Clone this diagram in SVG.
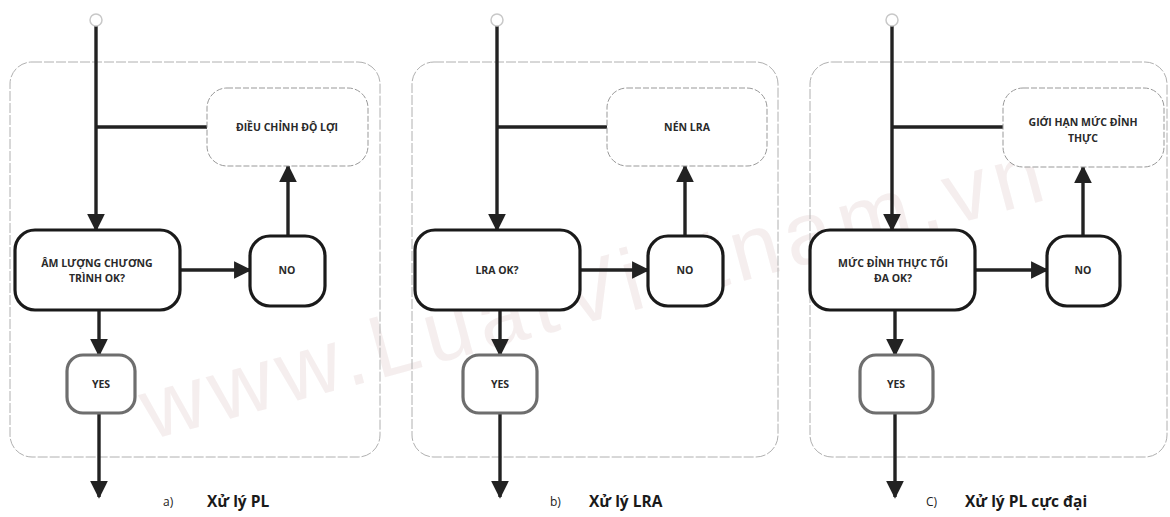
<svg xmlns="http://www.w3.org/2000/svg" width="1170" height="517" viewBox="0 0 1170 517">
<style>
.frame{fill:none;stroke:#b0b0b0;stroke-width:1;stroke-dasharray:10 2}
.act{fill:#fff;stroke:#999;stroke-width:1;stroke-dasharray:6 2}
.dec{fill:#fff;stroke:#1a1a1a;stroke-width:3.2}
.no{fill:#fff;stroke:#1a1a1a;stroke-width:3.2}
.yes{fill:#fff;stroke:#6e6e6e;stroke-width:3.2}
.start{fill:#fff;stroke:#c8c8c8;stroke-width:1.5}
.lbl{font-family:"Open Sans","Liberation Sans",sans-serif;font-weight:bold;font-size:10.5px;fill:#2a2a2a;text-anchor:middle}
.cap{font-family:"Open Sans","Liberation Sans",sans-serif;font-size:12px;fill:#222}
.capb{font-family:"Open Sans","Liberation Sans",sans-serif;font-weight:bold;font-size:15.5px;fill:#1a1a1a}
.ln{fill:none;stroke:#222;stroke-width:3.4}
.wm{font-family:"Liberation Sans",sans-serif;font-size:88px;fill:#f3ebeb;opacity:0.8}
</style>
<defs>
<marker id="ah" viewBox="0 0 10 10" refX="9" refY="5" markerWidth="5.2" markerHeight="5.2" markerUnits="strokeWidth" orient="auto">
<path d="M0,0 L10,5 L0,10 z" fill="#222"/>
</marker>
</defs>
<rect width="1170" height="517" fill="#fff"/>
<text class="wm" x="150" y="440" transform="rotate(-15 150 440)" textLength="930">www.LuatVietnam.vn</text>

<g id="frames">
<rect class="frame" x="10" y="62" width="370" height="395" rx="22"/>
<rect class="frame" x="412" y="62" width="366" height="395" rx="22"/>
<rect class="frame" x="810" y="62" width="357" height="395" rx="22"/>
</g>

<g id="connectors">
<line class="ln" x1="96" y1="26" x2="96" y2="230" marker-end="url(#ah)"/>
<line class="ln" x1="96" y1="127" x2="207" y2="127"/>
<line class="ln" x1="180" y1="270" x2="250" y2="270" marker-end="url(#ah)"/>
<line class="ln" x1="288" y1="236" x2="288" y2="166" marker-end="url(#ah)"/>
<line class="ln" x1="99" y1="310" x2="99" y2="355" marker-end="url(#ah)"/>
<line class="ln" x1="99" y1="413" x2="99" y2="497" marker-end="url(#ah)"/>
<line class="ln" x1="497" y1="26" x2="497" y2="230" marker-end="url(#ah)"/>
<line class="ln" x1="497" y1="127" x2="607" y2="127"/>
<line class="ln" x1="580" y1="270" x2="648" y2="270" marker-end="url(#ah)"/>
<line class="ln" x1="685" y1="236" x2="685" y2="166" marker-end="url(#ah)"/>
<line class="ln" x1="500" y1="310" x2="500" y2="355" marker-end="url(#ah)"/>
<line class="ln" x1="500" y1="413" x2="500" y2="497" marker-end="url(#ah)"/>
<line class="ln" x1="892" y1="26" x2="892" y2="230" marker-end="url(#ah)"/>
<line class="ln" x1="892" y1="127" x2="1003" y2="127"/>
<line class="ln" x1="975" y1="270" x2="1047" y2="270" marker-end="url(#ah)"/>
<line class="ln" x1="1083" y1="236" x2="1083" y2="167" marker-end="url(#ah)"/>
<line class="ln" x1="895" y1="310" x2="895" y2="355" marker-end="url(#ah)"/>
<line class="ln" x1="895" y1="413" x2="895" y2="497" marker-end="url(#ah)"/>
</g>

<g id="a-start"><circle class="start" cx="96" cy="20" r="6"/></g>
<g id="a-adjust"><rect class="act" x="207" y="88" width="161" height="78" rx="20"/><text class="lbl" x="287" y="131">ĐIỀU CHỈNH ĐỘ LỢI</text></g>
<g id="a-decision"><rect class="dec" x="15" y="230" width="165" height="80" rx="20"/><text class="lbl" x="97" y="267">ÂM LƯỢNG CHƯƠNG</text><text class="lbl" x="97" y="282">TRÌNH OK?</text></g>
<g id="a-no"><rect class="no" x="250" y="236" width="75" height="70" rx="20"/><text class="lbl" x="287" y="274">NO</text></g>
<g id="a-yes"><rect class="yes" x="67" y="355" width="68" height="58" rx="16"/><text class="lbl" x="101" y="388">YES</text></g>
<g id="a-caption"><text class="cap" x="163" y="506">a)</text><text class="capb" x="207" y="507">Xử lý PL</text></g>

<g id="b-start"><circle class="start" cx="497" cy="20" r="6"/></g>
<g id="b-compress"><rect class="act" x="607" y="88" width="160" height="78" rx="20"/><text class="lbl" x="687" y="131">NÉN LRA</text></g>
<g id="b-decision"><rect class="dec" x="415" y="230" width="165" height="80" rx="20"/><text class="lbl" x="497" y="274">LRA OK?</text></g>
<g id="b-no"><rect class="no" x="648" y="236" width="75" height="70" rx="20"/><text class="lbl" x="685" y="274">NO</text></g>
<g id="b-yes"><rect class="yes" x="463" y="355" width="74" height="58" rx="16"/><text class="lbl" x="500" y="388">YES</text></g>
<g id="b-caption"><text class="cap" x="550" y="506">b)</text><text class="capb" x="589" y="507">Xử lý LRA</text></g>

<g id="c-start"><circle class="start" cx="892" cy="20" r="6"/></g>
<g id="c-limit"><rect class="act" x="1003" y="88" width="161" height="79" rx="20"/><text class="lbl" x="1083" y="126">GIỚI HẠN MỨC ĐỈNH</text><text class="lbl" x="1083" y="142">THỰC</text></g>
<g id="c-decision"><rect class="dec" x="810" y="230" width="165" height="80" rx="20"/><text class="lbl" x="893" y="267">MỨC ĐỈNH THỰC TỐI</text><text class="lbl" x="893" y="282">ĐA OK?</text></g>
<g id="c-no"><rect class="no" x="1047" y="236" width="73" height="70" rx="20"/><text class="lbl" x="1083" y="274">NO</text></g>
<g id="c-yes"><rect class="yes" x="860" y="355" width="73" height="58" rx="16"/><text class="lbl" x="896" y="388">YES</text></g>
<g id="c-caption"><text class="cap" x="926" y="506">C)</text><text class="capb" x="965" y="507">Xử lý PL cực đại</text></g>
</svg>
